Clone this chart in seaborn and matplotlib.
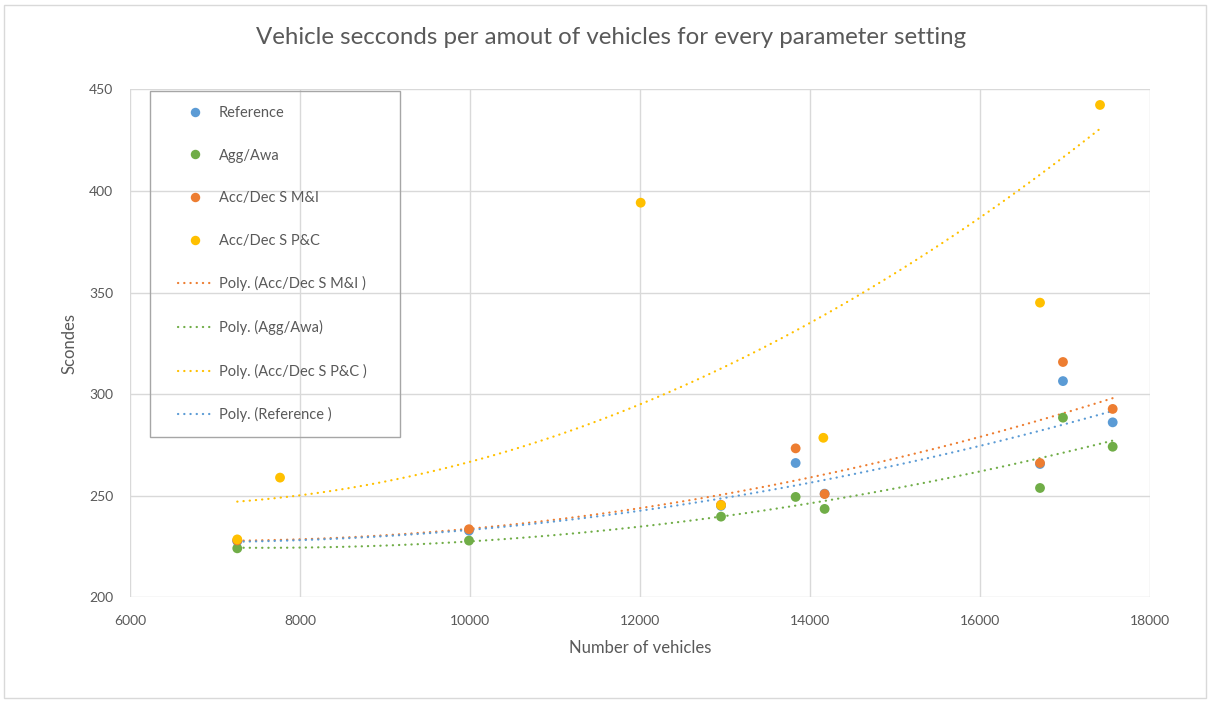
import numpy as np
import pandas as pd
import matplotlib
matplotlib.use("Agg")
import matplotlib.pyplot as plt
from matplotlib.patches import Rectangle
from matplotlib.lines import Line2D
import seaborn as sns

# Measured vehicle seconds per number of vehicles, one list per parameter setting
ref_x = [7262, 9988, 12953, 13831, 14172, 16706, 16976, 17561]
ref_y = [227.6, 232.8, 245.0, 266.1, 251.0, 265.6, 306.4, 286.1]

agg_x = [7262, 9988, 12953, 13831, 14172, 16706, 16976, 17561]
agg_y = [224.1, 227.9, 239.7, 249.4, 243.5, 253.8, 288.4, 274.1]

mi_x = [7262, 9988, 12953, 13831, 14172, 16706, 16976, 17561]
mi_y = [228.0, 233.5, 245.5, 273.3, 250.8, 266.1, 315.8, 292.7]

# one P&C run lies above the 450 s axis limit and is clipped from view
pc_x = [7262, 7765, 12008, 12953, 14157, 16300, 16706, 17412]
pc_y = [228.5, 258.9, 394.2, 245.3, 278.5, 484.0, 345.0, 442.3]

series_names = ["Reference", "Agg/Awa", "Acc/Dec S M&I", "Acc/Dec S P&C"]
x_ticks = [6000, 8000, 10000, 12000, 14000, 16000, 18000]
y_ticks = [200, 250, 300, 350, 400, 450]

colors = {
    "Reference": "#5B9BD5",
    "Agg/Awa": "#70AD47",
    "Acc/Dec S M&I": "#ED7D31",
    "Acc/Dec S P&C": "#FFC000",
}

frames = []
for name, xs, ys in zip(series_names,
                        [ref_x, agg_x, mi_x, pc_x],
                        [ref_y, agg_y, mi_y, pc_y]):
    frames.append(pd.DataFrame({"vehicles": xs, "seconds": ys, "setting": name}))
df = pd.concat(frames, ignore_index=True)

sns.set_theme(style="white")
plt.rcParams["font.family"] = ["Lato", "DejaVu Sans"]
text_color = "#595959"
grid_color = "#D9D9D9"

fig = plt.figure(figsize=(12.11, 7.02), dpi=100)
ax = fig.add_axes([130 / 1211, 1 - 597.3 / 702, 1020 / 1211, 508 / 702])

# outer chart frame
fig.patches.append(Rectangle((4 / 1211, 4 / 702), 1202 / 1211, 693 / 702,
                             transform=fig.transFigure, fill=False,
                             edgecolor=grid_color, linewidth=1.0))

dot_style = (0, (0.1, 2.7))

# second-order polynomial trend lines
trend_order = ["Acc/Dec S M&I", "Agg/Awa", "Acc/Dec S P&C", "Reference"]
for name in trend_order:
    sub = df[df["setting"] == name]
    sns.regplot(data=sub, x="vehicles", y="seconds", order=2, ci=None,
                scatter=False, truncate=True, ax=ax,
                line_kws={"color": colors[name], "linewidth": 1.6,
                          "linestyle": dot_style, "dash_capstyle": "round"})

# data points, drawn so later settings sit on top
for name in series_names:
    sub = df[df["setting"] == name]
    sns.scatterplot(data=sub, x="vehicles", y="seconds", ax=ax,
                    color=colors[name], s=50, edgecolor="none", zorder=3)

ax.set_xlim(6000, 18000)
ax.set_ylim(200, 450)
ax.set_xticks(x_ticks)
ax.set_yticks(y_ticks)
ax.grid(True, color=grid_color, linewidth=1.0)
ax.set_axisbelow(True)
for sp in ax.spines.values():
    sp.set_visible(False)
ax.tick_params(axis="both", length=0, labelsize=10, labelcolor=text_color)
ax.tick_params(axis="x", pad=13)
ax.tick_params(axis="y", pad=12)
ax.set_xlabel("Number of vehicles", fontsize=12, color=text_color, labelpad=9)
ax.set_ylabel("Scondes", fontsize=12, color=text_color, labelpad=8)
fig.text(611 / 1211, 1 - 37 / 702, "Vehicle secconds per amout of vehicles for every parameter setting",
         ha="center", va="center", fontsize=17.3, color=text_color)

# legend
handles = []
labels = []
for name in series_names:
    handles.append(Line2D([], [], linestyle="none", marker="o", markersize=6.8,
                          markerfacecolor=colors[name], markeredgecolor="none"))
    labels.append(name)
legend_trend_labels = {
    "Acc/Dec S M&I": "Poly. (Acc/Dec S M&I )",
    "Agg/Awa": "Poly. (Agg/Awa)",
    "Acc/Dec S P&C": "Poly. (Acc/Dec S P&C )",
    "Reference": "Poly. (Reference )",
}
for name in trend_order:
    handles.append(Line2D([], [], color=colors[name], linewidth=1.6,
                          linestyle=dot_style, dash_capstyle="round"))
    labels.append(legend_trend_labels[name])

leg = ax.legend(handles, labels, loc="upper left",
                bbox_to_anchor=((178 - 130) / 1020, (597.3 - 106) / 508),
                frameon=False, fontsize=10.5, labelcolor=text_color,
                handlelength=2.3, handletextpad=0.5, labelspacing=1.96,
                borderpad=0, borderaxespad=0)
ax.add_patch(Rectangle(((150 - 130) / 1020, (597.3 - 437) / 508),
                       250 / 1020, 346 / 508, transform=ax.transAxes,
                       fill=False, edgecolor="#A6A6A6", linewidth=1.0,
                       zorder=5, clip_on=False))

fig.savefig("out.png", dpi=100, facecolor="white")
